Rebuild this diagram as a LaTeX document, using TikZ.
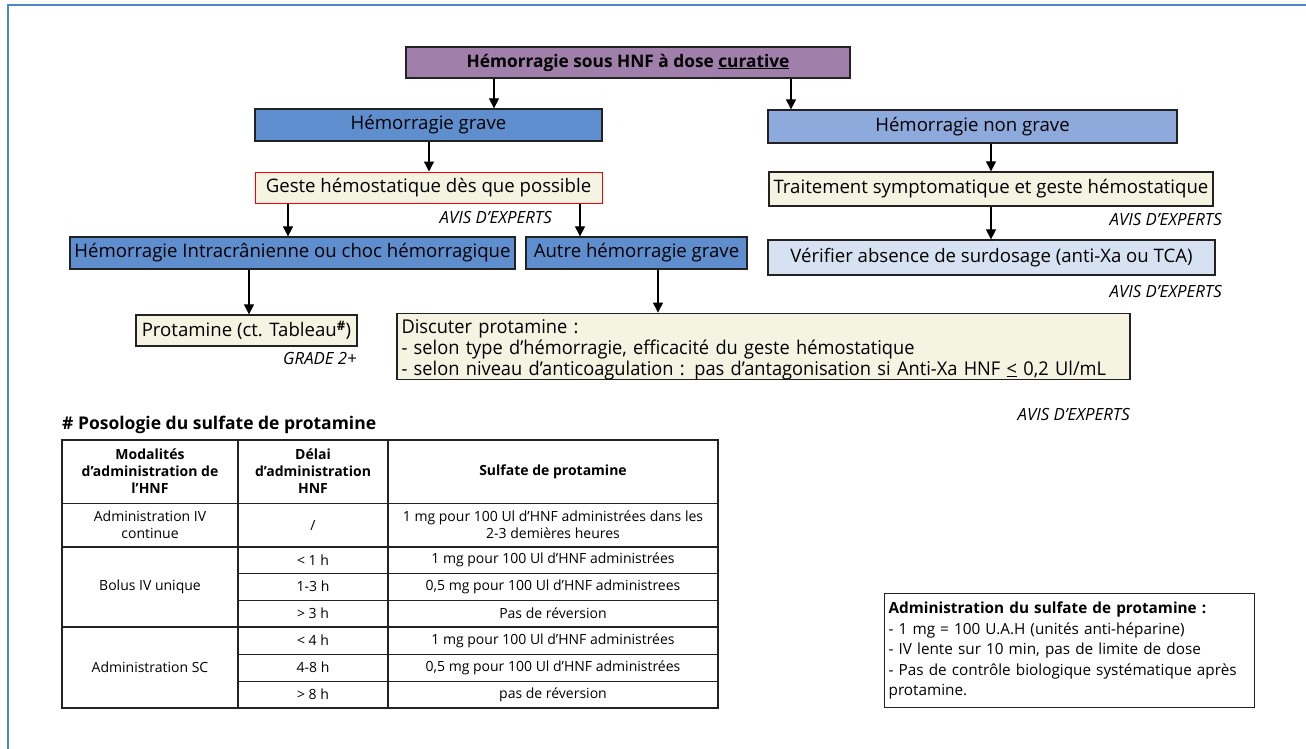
\documentclass[tikz,border=0pt]{standalone}
\usepackage{fontspec}
\setmainfont{Open Sans}
\newfontfamily\condfont[FakeStretch=0.96]{Open Sans}
\usetikzlibrary{arrows.meta}
\definecolor{frameblue}{HTML}{4A86C8}
\definecolor{topfill}{HTML}{A07FAA}
\definecolor{gravefill}{HTML}{5F8ECF}
\definecolor{nongravefill}{HTML}{8EAADC}
\definecolor{creamfill}{HTML}{F5F3E1}
\definecolor{verifill}{HTML}{D6E2F2}
\definecolor{boxline}{HTML}{222222}
\newcommand\fbig{\fontsize{18.6}{21}\selectfont}
\newcommand\ftop{\bfseries\fontsize{17.3}{20}\selectfont}
\newcommand\fdisc{\condfont\fontsize{19}{21}\selectfont}
\newcommand\favis{\itshape\fontsize{16.8}{19}\selectfont}
\newcommand\fcell{\fontsize{14}{17}\selectfont}
\newcommand\fadm{\fontsize{15.3}{20.5}\selectfont}
\begin{document}
\begin{tikzpicture}[x=1pt,y=-1pt,
  box/.style={draw=boxline, line width=1.3pt, inner sep=0pt, anchor=center, font=\fbig},
  arr/.style={line width=1.2pt, -{Triangle[width=10pt,length=10pt]}},
  avis/.style={font=\favis, anchor=east, inner sep=0pt},
  cell/.style={font=\fcell, align=center, inner sep=0pt, anchor=center},
  hcell/.style={font=\fcell\bfseries, align=center, inner sep=0pt, anchor=center},
  tline/.style={line width=1pt, draw=boxline},
  gline/.style={line width=1.6pt, draw=boxline}
]
\clip (0,0) rectangle (1306,748);
\fill[white] (0,0) rectangle (1306,748);
\draw[frameblue, line width=2pt] (8,5) rectangle (1340,780);

% flowchart boxes
\node[box, fill=topfill, minimum width=444pt, minimum height=31pt, font=\ftop] (top) at (628,62.5) {Hémorragie sous HNF à dose \underline{curative}};
\node[box, fill=gravefill, minimum width=347pt, minimum height=32pt] (grave) at (428.5,125) {Hémorragie grave};
\node[box, fill=nongravefill, minimum width=409pt, minimum height=33pt] (nongrave) at (972.5,126.5) {Hémorragie non grave};
\node[box, draw=red, line width=1pt, fill=creamfill, minimum width=347pt, minimum height=31pt] (geste) at (428.5,187.5) {Geste hémostatique dès que possible};
\node[box, fill=creamfill, minimum width=444pt, minimum height=34pt] (trait) at (991,189) {Traitement symptomatique et geste hémostatique};
\node[box, fill=gravefill, minimum width=445pt, minimum height=32pt] (ich) at (292.5,253) {Hémorragie Intracrânienne ou choc hémorragique};
\node[box, fill=gravefill, minimum width=221pt, minimum height=32pt] (autre) at (636.5,253) {Autre hémorragie grave};
\node[box, fill=verifill, minimum width=447pt, minimum height=35pt] (verif) at (991.5,257.5) {Vérifier absence de surdosage (anti-Xa ou TCA)};
\node[box, fill=creamfill, minimum width=221pt, minimum height=31pt] (prot) at (246.5,330.5) {Protamine (ct. Tableau\textsuperscript{\bfseries\#})};
\node[box, fill=creamfill, minimum width=733pt, minimum height=63pt, text width=724pt, inner xsep=4.5pt, align=left, font=\fdisc] (disc) at (763.5,346.5) {\rule{0pt}{20pt}Discuter protamine :\\- selon type d’hémorragie, efficacité du geste hémostatique\\- selon niveau d’anticoagulation : pas d’antagonisation si Anti-Xa HNF \underline{<} 0,2 Ul/mL};

% labels
\node[avis] (a1) at (552,217) {AVIS D'EXPERTS};
\node[avis] (a2) at (1222,219) {AVIS D'EXPERTS};
\node[avis] (a3) at (1222,291) {AVIS D'EXPERTS};
\node[avis] (a4) at (1130,414) {AVIS D'EXPERTS};
\node[avis] (g2) at (357,358) {GRADE 2+};

% connectors
\coordinate (x0) at (429,0);
\coordinate (x1) at (494,0);
\coordinate (x2) at (791,0);
\coordinate (x3) at (288,0);
\coordinate (x4) at (580,0);
\coordinate (x5) at (249,0);
\coordinate (x6) at (658,0);
\coordinate (x7) at (991,0);
\draw[arr] (top.south -| x1) -- (grave.north -| x1);
\draw[arr] (top.south -| x2) -- (nongrave.north -| x2);
\draw[arr] (grave.south -| x0) -- (geste.north -| x0);
\draw[arr] (nongrave.south -| x7) -- (trait.north -| x7);
\draw[arr] (trait.south -| x7) -- (verif.north -| x7);
\draw[arr] (geste.south -| x3) -- (ich.north -| x3);
\draw[arr] (geste.south -| x4) -- (autre.north -| x4);
\draw[arr] (ich.south -| x5) -- (prot.north -| x5);
\draw[arr] (autre.south -| x6) -- (disc.north -| x6);

% table
\node[anchor=west, inner sep=0pt, font=\bfseries\fontsize{17.5}{19}\selectfont] (ttl) at (62,425) {\# Posologie du sulfate de protamine};
\draw[tline] (238,573) -- (718,573);
\draw[tline] (238,600) -- (718,600);
\draw[tline] (238,654) -- (718,654);
\draw[tline] (238,681) -- (718,681);
\draw[tline] (62,503) -- (718,503);
\draw[gline] (62,547) -- (718,547);
\draw[gline] (62,627) -- (718,627);
\draw[gline] (238,440) -- (238,708);
\draw[gline] (388,440) -- (388,708);
\draw[line width=1.5pt, draw=boxline] (62,440) rectangle (718,708);

\node[hcell] (h1) at (150,471.5) {Modalités\\d’administration de\\l’HNF};
\node[hcell] (h2) at (313,471.5) {Délai\\d’administration\\HNF};
\node[hcell] (h3) at (553,471.5) {Sulfate de protamine};
\node[cell] (r1a) at (150,525) {Administration IV\\continue};
\node[cell] (r1b) at (313,525) {/};
\node[cell] (r1c) at (553,525) {1 mg pour 100 Ul d’HNF administrées dans les\\2-3 demières heures};
\node[cell] (bol) at (150,587) {Bolus IV unique};
\node[cell] (r2b) at (313,560) {< 1 h};
\node[cell] (r2c) at (553,560) {1 mg pour 100 Ul d’HNF administrées};
\node[cell] (r3b) at (313,586.5) {1-3 h};
\node[cell] (r3c) at (553,586.5) {0,5 mg pour 100 Ul d’HNF administrees};
\node[cell] (r4b) at (313,613.5) {> 3 h};
\node[cell] (r4c) at (553,613.5) {Pas de réversion};
\node[cell] (sc) at (150,667.5) {Administration SC};
\node[cell] (r5b) at (313,640.5) {< 4 h};
\node[cell] (r5c) at (553,640.5) {1 mg pour 100 Ul d’HNF administrées};
\node[cell] (r6b) at (313,667.5) {4-8 h};
\node[cell] (r6c) at (553,667.5) {0,5 mg pour 100 Ul d’HNF administrées};
\node[cell] (r7b) at (313,694.5) {> 8 h};
\node[cell] (r7c) at (553,694.5) {pas de réversion};

% administration box
\node[draw=boxline, line width=1.3pt, fill=white, anchor=north west, minimum width=370pt, minimum height=114pt, text width=362pt, inner xsep=4pt, inner ysep=0pt, align=left, font=\fadm] (adm) at (884,593) {\textbf{Administration du sulfate de protamine :}\\- 1 mg = 100 U.A.H (unités anti-héparine)\\- IV lente sur 10 min, pas de limite de dose\\- Pas de contrôle biologique systématique après\\protamine.};
\end{tikzpicture}
\end{document}
